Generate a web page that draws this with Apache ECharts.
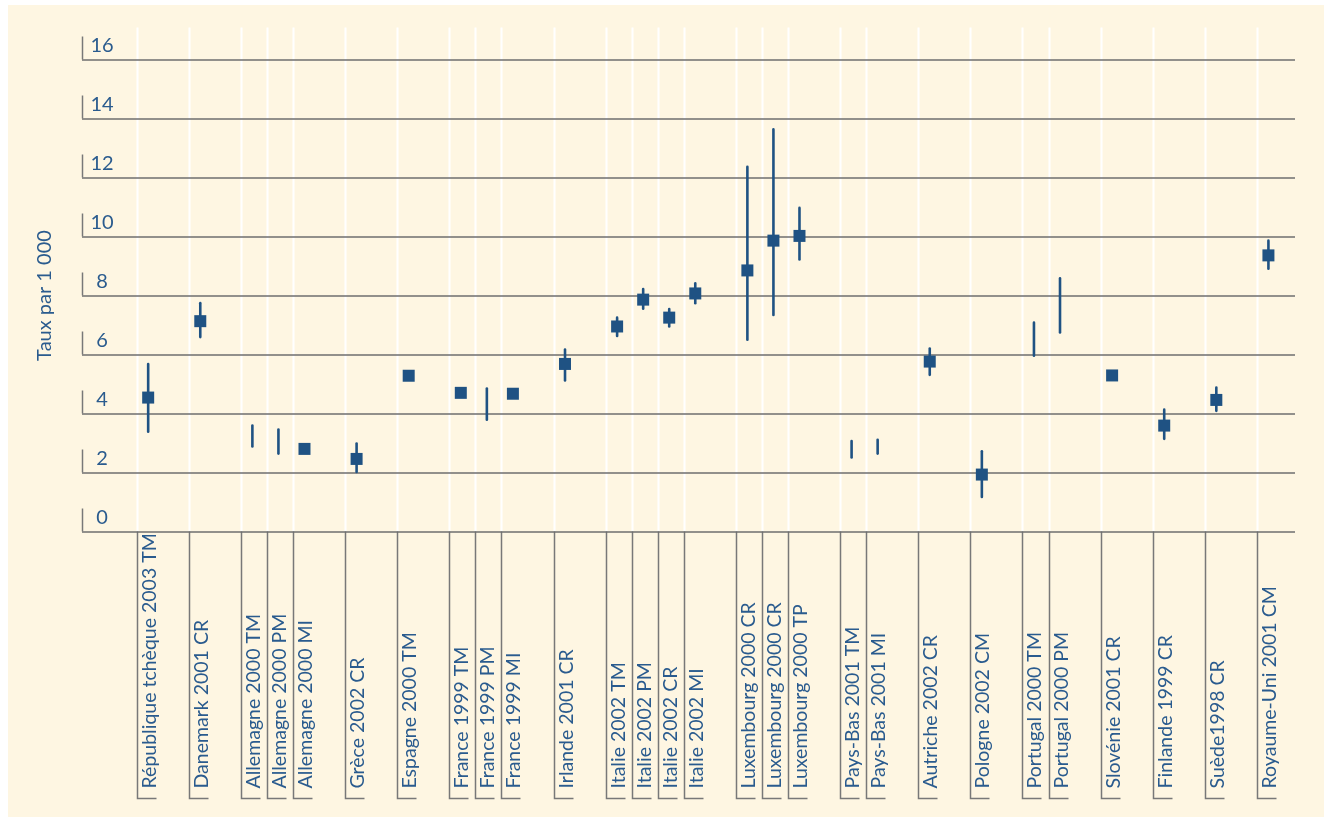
<!DOCTYPE html>
<html><head><meta charset="utf-8">
<script src="https://cdn.jsdelivr.net/npm/echarts@6/dist/echarts.min.js"></script>
<style>
html,body{margin:0;padding:0;background:#fff;}
#c{position:absolute;left:8px;top:5px;width:1316px;height:812px;background:#fef6e2;}
</style></head><body><div id="c"></div>
<script>
const categories = [
  'République tchèque 2003 TM','Danemark 2001 CR','Allemagne 2000 TM','Allemagne 2000 PM','Allemagne 2000 MI',
  'Grèce 2002 CR','Espagne 2000 TM','France 1999 TM','France 1999 PM','France 1999 MI','Irlande 2001 CR',
  'Italie 2002 TM','Italie 2002 PM','Italie 2002 CR','Italie 2002 MI','Luxembourg 2000 CR','Luxembourg 2000 CR',
  'Luxembourg 2000 TP','Pays-Bas 2001 TM','Pays-Bas 2001 MI','Autriche 2002 CR','Pologne 2002 CM',
  'Portugal 2000 TM','Portugal 2000 PM','Slovénie 2001 CR','Finlande 1999 CR','Suède1998 CR','Royaume-Uni 2001 CM'
];
const countries = [
  'République tchèque','Danemark','Allemagne','Allemagne','Allemagne','Grèce','Espagne','France','France','France',
  'Irlande','Italie','Italie','Italie','Italie','Luxembourg','Luxembourg','Luxembourg','Pays-Bas','Pays-Bas',
  'Autriche','Pologne','Portugal','Portugal','Slovénie','Finlande','Suède','Royaume-Uni'
];
const pointValues = [4.54,7.13,null,null,2.80,2.46,5.28,4.70,null,4.67,5.68,6.95,7.86,7.25,8.07,8.85,9.86,10.02,null,null,5.76,1.93,null,null,5.29,3.59,4.46,9.36];
const lowValues   = [3.38,6.59,2.88,2.64,null,2.02,null,null,3.79,null,5.12,6.63,7.55,6.95,7.74,6.50,7.34,9.22,2.51,2.64,5.31,1.17,5.96,6.75,null,3.14,4.09,8.91];
const highValues  = [5.68,7.74,3.59,3.46,null,2.98,null,null,4.85,null,6.17,7.25,8.22,7.54,8.41,12.36,13.63,10.97,3.07,3.11,6.20,2.72,7.08,8.58,null,4.13,4.88,9.86];
const yTicks = [0,2,4,6,8,10,12,14,16];
const yTitle = 'Taux par 1 000';

const BLUE = '#1f5283', TEXT = '#2a5b8e', GRID = '#6e6e6e', SEP = '#787878';
const FONT = 'Lato, "Noto Sans", sans-serif';
const X_MIN = -2.1, X_MAX = 44.46, OFF = 0.44;

// slot index: one slot per category, an extra empty slot between countries
const slots = [];
countries.forEach((c, i) => { slots.push(i === 0 ? 0 : slots[i - 1] + (c === countries[i - 1] ? 1 : 2)); });

const pointData = [], rangeData = [];
categories.forEach((c, i) => {
  if (pointValues[i] != null) pointData.push([slots[i] + OFF, pointValues[i]]);
  if (lowValues[i] != null) rangeData.push([slots[i] + OFF, lowValues[i], highValues[i]]);
});

const chart = echarts.init(document.getElementById('c'));
chart.setOption({
  animation: false,
  grid: { left: 74, top: 54.5, width: 1213, height: 472, containLabel: false },
  xAxis: { type: 'value', min: X_MIN, max: X_MAX, show: false },
  yAxis: {
    type: 'value', min: 0, max: 16, interval: 2,
    axisLine: { show: false }, axisTick: { show: false },
    splitLine: { show: true, lineStyle: { color: GRID, width: 1.5 } },
    axisLabel: { inside: true, margin: 20, align: 'center', verticalAlign: 'bottom', color: TEXT, fontSize: 20, fontFamily: FONT, lineHeight: 20, padding: [0, 0, 4, 0],
      formatter: v => yTicks.includes(v) ? String(v) : '' },
    name: yTitle, nameLocation: 'middle', nameRotate: 90, nameGap: 27,
    nameTextStyle: { color: TEXT, fontSize: 20, fontFamily: FONT }
  },
  series: [
    { type: 'custom', z: -1, silent: true, clip: false,
      data: slots.map(s => [s, 0]),
      renderItem: (params, api) => {
        const k = api.value(0);
        const p0 = api.coord([k, 0]), p16 = api.coord([k, 16]);
        const x = Math.round(p0[0]) + 0.5;
        const yBot = p0[1] + 267;
        return { type: 'group', children: [
          { type: 'line', shape: { x1: x, y1: p16[1] - 32, x2: x, y2: p0[1] }, style: { stroke: '#ffffff', lineWidth: 2 } },
          { type: 'polyline', shape: { points: [[x, p0[1]], [x, yBot], [x + 19, yBot]] }, style: { stroke: SEP, lineWidth: 1.5, fill: null } },
          { type: 'text', x: x + 12, y: yBot - 10, rotation: Math.PI / 2,
            style: { text: categories[params.dataIndex], fill: TEXT, fontSize: 19.5, fontFamily: FONT, align: 'left', verticalAlign: 'middle' } }
        ]};
      } },
    { type: 'custom', silent: true, clip: false,
      data: yTicks.map(v => [X_MIN, v]),
      renderItem: (params, api) => {
        const p = api.coord([api.value(0), api.value(1)]);
        const x = Math.round(p[0]) + 0.5;
        return { type: 'line', shape: { x1: x, y1: p[1], x2: x, y2: p[1] - 23 }, style: { stroke: SEP, lineWidth: 1.5 } };
      } },
    { type: 'custom', silent: true, z: 3,
      data: rangeData,
      renderItem: (params, api) => {
        const a = api.coord([api.value(0), api.value(1)]), b = api.coord([api.value(0), api.value(2)]);
        return { type: 'line', shape: { x1: a[0], y1: a[1], x2: b[0], y2: b[1] }, style: { stroke: BLUE, lineWidth: 2.6, lineCap: 'round' } };
      } },
    { type: 'scatter', z: 4, symbol: 'rect', symbolSize: 12, silent: true,
      itemStyle: { color: BLUE, opacity: 1 }, data: pointData }
  ]
});
</script></body></html>
